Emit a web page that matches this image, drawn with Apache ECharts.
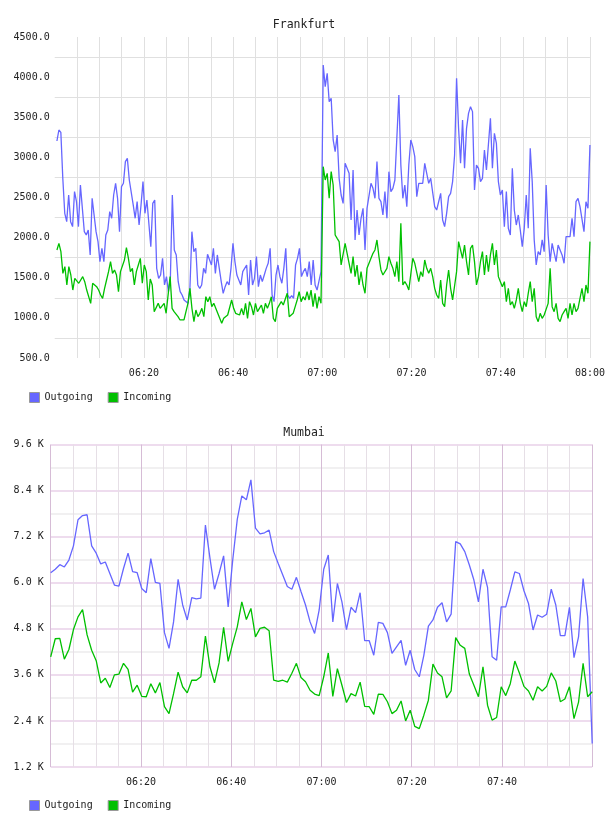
<!DOCTYPE html>
<html>
<head>
<meta charset="utf-8">
<script src="https://cdn.jsdelivr.net/npm/echarts@6/dist/echarts.min.js"></script>
<style>
  html, body { margin: 0; padding: 0; background: #fff; }
  #chart { width: 608px; height: 816px; }
</style>
</head>
<body>
<div id="chart"></div>
<script>
// Frankfurt, sampled roughly every 27s; split at the 07:00 jump
const fraOutBefore = [
  3204,3341,3312,2739,2303,2199,2531,2199,2137,2573,
  2448,2137,2656,2365,2074,2033,2095,1784,2490,2282,
  2074,1950,1701,1867,1701,2033,2095,2324,2241,2531,
  2677,2490,2074,2635,2677,2947,2988,2718,2698,2407,
  2241,2448,2157,2407,2698,2303,2469,2490,1887,2427,
  2469,1617,1493,1534,1742,1410,1514,1327,1493,2531,
  1846,1784,1451,1327,1285,1223,1202,1181,1368,2074,
  1825,1867,1410,1368,1410,1617,1555,1792,1804,1659,
  1867,1555,1784,1617,1451,1306,1389,1451,1410,1617,
  1929,1701,1534,1514,1410,1576,1555,1659,1285,1721,
  1410,1493,1763,1389,1534,1451,1534,1617,1680,1867,
  1285,1202,1534,1659,1514,1431,1617,1867,1285,1244,
  1277,1244,1659,1742,1867,1514,1576,1617,1514,1701,
  1410,1721,1410,1347,1368,1576
];
const fraInBefore = [
  1846,1929,1825,1555,1638,1410,1638,1534,1347,1493,
  1514,1431,1451,1514,1451,1347,1368,1181,1431,1431,
  1389,1347,1285,1244,1368,1472,1576,1701,1555,1597,
  1534,1327,1576,1576,1721,1875,1742,1576,1617,1410,
  1576,1659,1742,1431,1659,1576,1223,1485,1410,1077,
  1057,1181,1119,1098,1181,1057,1077,1514,1119,1077,
  1098,1015,974,994,974,953,1181,1368,1119,953,
  1098,1015,1057,1119,1015,1264,1202,1264,1140,1181,
  1181,1057,1036,932,994,994,1036,1015,1223,1119,
  1057,1077,1036,1119,1036,1181,994,1202,1140,1036,
  1181,1077,1119,1160,1057,1181,1119,1181,1264,994,
  953,1119,1140,1202,1160,1140,1306,1015,1036,1057,
  1140,1223,1327,1202,1264,1223,1327,1223,1347,1140,
  1306,1119,1264,1181
];
const fraOutAfter = [
  4151,3881,4048,3694,3736,3217,3071,3279,2739,2531,
  2427,2926,2905,2801,2220,2843,1971,2344,2033,2241,
  2365,1846,2365,2386,2677,2614,2490,2947,2490,2448,
  2282,2573,2241,2822,2573,2614,2718,2739,3778,2905,
  2490,2656,2386,2905,3217,3134,3009,2511,2677,2677,
  2677,2926,2801,2677,2739,2718,2386,2344,2344,2552,
  2220,2137,2303,2511,2552,2698,3030,3985,3362,2926,
  3466,2864,3362,3549,3632,3570,2594,2905,2864,2698,
  2739,3092,2843,2843,3487,2864,3300,3175,2698,2531,
  2594,2137,2573,2116,2033,2864,2344,2157,2282,2095,
  1887,2116,2531,2116,3113,2698,1971,1659,1825,1784,
  1971,1825,2656,2033,1701,1929,1929,1701,1908,1887,
  1784,1680,2012,1991,2012,2241,2012,2448,2490,2386,
  2365,2074,2448,2365,3154
];
const fraInAfter = [
  2884,2718,2801,2490,2822,2656,2033,1991,1950,1659,
  1680,1929,1804,1784,1555,1763,1514,1659,1410,1576,
  1410,1306,1617,1638,1742,1804,1846,1971,1763,1597,
  1534,1514,1617,1763,1680,1617,1514,1701,1451,2178,
  1410,1451,1410,1347,1368,1742,1680,1659,1451,1576,
  1514,1721,1617,1555,1617,1514,1368,1285,1244,1472,
  1181,1140,1410,1597,1368,1223,1202,1576,1950,1846,
  1742,1908,1701,1534,1867,1908,1701,1410,1514,1701,
  1825,1534,1784,1576,1784,1929,1659,1846,1514,1451,
  1389,1451,1202,1368,1160,1202,1119,1223,1368,1181,
  1077,1202,1140,1306,1451,1202,1368,1015,953,1057,
  994,1036,1015,1181,1617,1140,1077,1181,994,953,
  1036,1077,1119,994,1181,1036,1181,1077,1119,1140,
  1368,1202,1410,1306,1950
];
// sample windows, minutes of the day
const fraBefore = [360.5, 419.7];
const fraAfter = [420.2, 480];

// Mumbai, one sample a minute from 06:00 to 08:00
const mumOut = [
  6260,6350,6470,6410,6590,6960,7640,7750,7770,6960,
  6770,6490,6540,6240,5940,5910,6370,6770,6290,6260,
  5850,5740,6630,6010,5980,4700,4290,4980,6090,5420,
  5030,5610,5580,5600,7500,6640,5830,6240,6700,5370,
  6590,7650,8260,8160,8680,7420,7270,7300,7370,6810,
  6500,6200,5900,5830,6140,5770,5420,4980,4680,5290,
  6350,6720,4980,5980,5500,4780,5360,5220,5740,4490,
  4490,4110,4970,4940,4700,4160,4330,4500,3850,4240,
  3740,3550,4110,4870,5030,5360,5480,4980,5180,7070,
  7010,6810,6460,6070,5500,6350,5880,4070,3980,5370,
  5370,5810,6280,6240,5790,5460,4770,5160,5100,5180,
  5830,5420,4620,4620,5360,4050,4590,6110,5110,1810
];
const mumIn = [
  4070,4540,4550,4010,4260,4780,5110,5300,4640,4240,
  3970,3390,3510,3270,3600,3620,3900,3740,3150,3330,
  3040,3030,3370,3130,3400,2770,2590,3110,3670,3290,
  3130,3460,3460,3550,4610,3810,3390,3910,4840,3950,
  4420,4850,5500,5040,5330,4590,4810,4840,4750,3460,
  3430,3460,3410,3640,3900,3530,3420,3200,3100,3060,
  3550,4170,3040,3760,3330,2880,3110,3050,3410,2780,
  2770,2570,3100,3090,2900,2590,2680,2920,2400,2680,
  2260,2200,2550,2940,3880,3650,3550,3000,3180,4570,
  4370,4290,3620,3330,3030,3810,2810,2420,2490,3290,
  3060,3370,3960,3650,3300,3180,2940,3290,3180,3300,
  3650,3440,2900,2970,3290,2460,2890,3900,3030,3160
];
const mumWindow = [360, 480];

const names = ["Outgoing", "Incoming"];
const colors = ["#6666ff", "#00c000"];
const font = "DejaVu Sans Mono";

// pair each value with an evenly spaced time inside its window
function withTimes(values, win) {
  const n = values.length;
  return values.map((v, i) => [win[0] + (win[1] - win[0]) * i / (n - 1), v]);
}

function hhmm(v) {
  const h = Math.floor(v / 60);
  const m = Math.round(v % 60);
  return String(h).padStart(2, "0") + ":" + String(m).padStart(2, "0");
}

const fraOut = withTimes(fraOutBefore, fraBefore).concat(withTimes(fraOutAfter, fraAfter));
const fraIn = withTimes(fraInBefore, fraBefore).concat(withTimes(fraInAfter, fraAfter));

const label = { fontFamily: font, fontSize: 10, color: "#222" };

function lineSeries(name, color, data, idx) {
  return {
    name: name,
    type: "line",
    xAxisIndex: idx,
    yAxisIndex: idx,
    data: data,
    symbol: "none",
    sampling: null,
    lineStyle: { color: color, width: 1.3 },
    itemStyle: { color: color },
    animation: false,
  };
}

const myChart = echarts.init(document.getElementById("chart"));
myChart.setOption({
  animation: false,
  title: [
    { text: "Frankfurt", left: "center", top: 14, textStyle: { fontFamily: font, fontSize: 11.5, fontWeight: "normal", color: "#222" } },
    { text: "Mumbai", left: "center", top: 422, textStyle: { fontFamily: font, fontSize: 11.5, fontWeight: "normal", color: "#222" } },
  ],
  legend: [
    { data: names, left: 24, top: 387, icon: "rect", itemWidth: 10, itemHeight: 10, itemGap: 15,
      itemStyle: { borderColor: "#999", borderWidth: 1 }, textStyle: label },
    { data: names, left: 24, top: 795, icon: "rect", itemWidth: 10, itemHeight: 10, itemGap: 15,
      itemStyle: { borderColor: "#999", borderWidth: 1 }, textStyle: label },
  ],
  grid: [
    { left: 54.7, top: 37, width: 537.3, height: 321 },
    { left: 50.7, top: 444.5, width: 541.5, height: 322.5 },
  ],
  xAxis: [
    {
      type: "value", gridIndex: 0, min: 360, max: 480, interval: 20,
      axisLine: { show: false }, axisTick: { show: false },
      axisLabel: { ...label, margin: 10, showMinLabel: false, formatter: hhmm },
      splitLine: { show: true, showMinLine: false, lineStyle: { color: "#e0e0e0", width: 1 } },
      minorTick: { show: false, splitNumber: 4 },
      minorSplitLine: { show: true, lineStyle: { color: "#e0e0e0", width: 1 } },
    },
    {
      type: "value", gridIndex: 1, min: 360, max: 480, interval: 20,
      axisLine: { show: false }, axisTick: { show: false },
      axisLabel: { ...label, margin: 10, showMinLabel: false, showMaxLabel: false, formatter: hhmm },
      splitLine: { show: true, lineStyle: { color: "#d6bcd6", width: 1 } },
      minorTick: { show: false, splitNumber: 4 },
      minorSplitLine: { show: true, lineStyle: { color: "#e6dfe6", width: 1 } },
    },
  ],
  yAxis: [
    {
      type: "value", gridIndex: 0, min: 500, max: 4500, interval: 500,
      axisLine: { show: false }, axisTick: { show: false },
      axisLabel: { ...label, margin: 5, formatter: (v) => v.toFixed(1) },
      splitLine: { show: false },
      minorTick: { show: false, splitNumber: 2 },
      minorSplitLine: { show: true, lineStyle: { color: "#e0e0e0", width: 1 } },
    },
    {
      type: "value", gridIndex: 1, min: 1200, max: 9600, interval: 1200,
      axisLine: { show: false }, axisTick: { show: false },
      axisLabel: { ...label, margin: 7, formatter: (v) => (v / 1000).toFixed(1) + " K" },
      splitLine: { show: true, lineStyle: { color: "#eedcee", width: 2 } },
      minorTick: { show: false, splitNumber: 2 },
      minorSplitLine: { show: true, lineStyle: { color: "#f1f0f1", width: 2 } },
    },
  ],
  series: [
    lineSeries(names[0], colors[0], fraOut, 0),
    lineSeries(names[1], colors[1], fraIn, 0),
    lineSeries(names[0], colors[0], withTimes(mumOut, mumWindow), 1),
    lineSeries(names[1], colors[1], withTimes(mumIn, mumWindow), 1),
  ],
});
</script>
</body>
</html>
